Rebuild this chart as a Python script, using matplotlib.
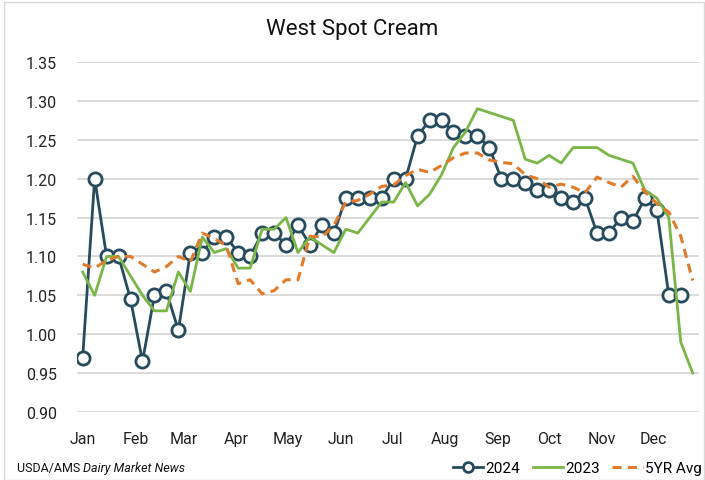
import matplotlib
matplotlib.use("Agg")
import matplotlib.pyplot as plt
import numpy as np
from matplotlib.patches import Rectangle

plt.rcParams['font.family'] = ['Roboto', 'DejaVu Sans']

months = ["Jan", "Feb", "Mar", "Apr", "May", "Jun", "Jul", "Aug", "Sep", "Oct", "Nov", "Dec"]
month_start_day = [0, 31, 59, 90, 120, 151, 181, 212, 243, 273, 304, 334]
yticks = [0.90, 0.95, 1.00, 1.05, 1.10, 1.15, 1.20, 1.25, 1.30, 1.35]

y2024 = [0.97, 1.20, 1.10, 1.10, 1.045, 0.965, 1.05, 1.055, 1.005, 1.105,
         1.105, 1.125, 1.125, 1.105, 1.10, 1.13, 1.13, 1.115, 1.14, 1.115,
         1.14, 1.13, 1.175, 1.175, 1.175, 1.175, 1.20, 1.20, 1.255, 1.275,
         1.275, 1.26, 1.255, 1.255, 1.24, 1.20, 1.20, 1.195, 1.185, 1.185,
         1.175, 1.17, 1.175, 1.13, 1.13, 1.15, 1.145, 1.175, 1.16, 1.05,
         1.05]

y2023 = [1.08, 1.05, 1.10, 1.10, 1.075, 1.05, 1.03, 1.03, 1.08, 1.055,
         1.125, 1.105, 1.11, 1.085, 1.085, 1.135, 1.135, 1.15, 1.105, 1.125,
         1.115, 1.105, 1.135, 1.13, 1.15, 1.17, 1.17, 1.195, 1.165, 1.18,
         1.205, 1.24, 1.26, 1.29, 1.285, 1.28, 1.275, 1.225, 1.22, 1.23,
         1.22, 1.24, 1.24, 1.24, 1.23, 1.225, 1.22, 1.185, 1.175, 1.15,
         0.99, 0.95]

y5yr = [1.09, 1.085, 1.095, 1.10, 1.10, 1.09, 1.08, 1.087, 1.10, 1.093,
        1.13, 1.123, 1.114, 1.065, 1.07, 1.052, 1.056, 1.07, 1.07, 1.126,
        1.125, 1.14, 1.17, 1.172, 1.18, 1.19, 1.192, 1.204, 1.212, 1.208,
        1.217, 1.227, 1.233, 1.233, 1.224, 1.221, 1.219, 1.205, 1.20, 1.189,
        1.193, 1.189, 1.182, 1.202, 1.195, 1.189, 1.203, 1.183, 1.168, 1.157,
        1.126, 1.069]

c2024 = "#264b5d"
c2023 = "#7ab547"
c5yr = "#e07b2b"

fig = plt.figure(figsize=(7.05, 4.81), dpi=100)
ax = fig.add_axes([76.7 / 705, 1 - 413 / 481, (698.7 - 76.7) / 705, 350 / 481])

x24 = np.arange(len(y2024))
x23 = np.arange(len(y2023))
x5 = np.arange(len(y5yr))

ax.plot(x24, y2024, color=c2024, lw=2.0, marker='o', markersize=9.5,
        markerfacecolor='white', markeredgecolor=c2024, markeredgewidth=2.0,
        label='2024', zorder=3)
ax.plot(x23, y2023, color=c2023, lw=2.0, label='2023', zorder=4)
ax.plot(x5, y5yr, color=c5yr, lw=2.2, linestyle=(0, (3, 2)), label='5YR Avg', zorder=5)

ax.set_xlim(-0.5, 51.5)
ax.set_ylim(0.90, 1.35)
ax.set_yticks(yticks)
ax.set_yticklabels([f"{v:.2f}" for v in yticks])
ax.set_xticks([d / 7 for d in month_start_day])
ax.set_xticklabels(months)
ax.tick_params(axis='both', length=0, labelsize=11.5, colors='#222222')
ax.tick_params(axis='y', pad=14)
ax.tick_params(axis='x', pad=14)
for s in ax.spines.values():
    s.set_visible(False)
ax.grid(axis='y', color='#d4d4d4', lw=1.2, zorder=0)
ax.set_axisbelow(True)

fig.text(0.5, 1 - 30 / 481, "West Spot Cream", ha='center', va='center', fontsize=16, color='#111111')

leg = fig.legend(loc='center right', bbox_to_anchor=(702 / 705, 1 - 469 / 481), ncol=3, frameon=False,
                 fontsize=11, handlelength=2.0, handletextpad=0.15, columnspacing=0.8,
                 borderaxespad=0, borderpad=0, markerscale=0.75)

t1 = fig.text(17 / 705, 1 - 469 / 481, "USDA/AMS ", ha='left', va='center', fontsize=9, color='#111111')
fig.canvas.draw()
bb = t1.get_window_extent()
fig.text(bb.x1 / fig.bbox.width, 1 - 469 / 481, "Dairy Market News", ha='left', va='center',
         fontsize=9, style='italic', color='#111111')

fig.patches.append(Rectangle((4 / 705, 0), 1 - 5 / 705, 1 - 3 / 481, transform=fig.transFigure,
                             fill=False, edgecolor='#d9d9d9', lw=1.0))

fig.savefig("out.png", dpi=100)
